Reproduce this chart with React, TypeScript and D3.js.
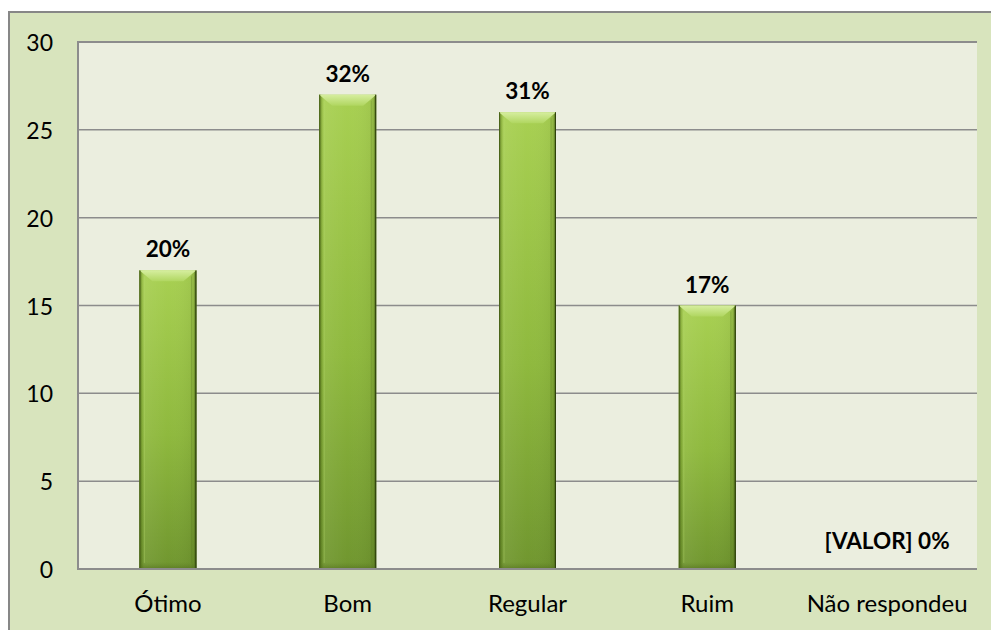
import React from "react";
import * as d3 from "d3";

const categories = ["Ótimo", "Bom", "Regular", "Ruim", "Não respondeu"];
const values = [17, 27, 26, 15, 0];
const valueLabels = ["20%", "32%", "31%", "17%", "[VALOR] 0%"];
const yTicks = [0, 5, 10, 15, 20, 25, 30];

const W = 991;
const H = 630;
const plot = { left: 78, right: 977, top: 42, bottom: 569 };
const FONT = "Lato, 'Open Sans', sans-serif";

export default function App() {
  const x = d3
    .scaleBand<string>()
    .domain(categories)
    .range([plot.left, plot.right])
    .paddingInner(0.683)
    .paddingOuter(0.3415);
  const y = d3.scaleLinear().domain([0, 30]).range([plot.bottom, plot.top]);
  const bw = x.bandwidth();

  return (
    <svg
      width={W}
      height={H}
      style={{ position: "absolute", left: 0, top: 0, display: "block" }}
    >
      <defs>
        <linearGradient id="barV" x1="0" y1="0" x2="0" y2="1">
          <stop offset="0%" stopColor="#a8d052" />
          <stop offset="55%" stopColor="#8fb93e" />
          <stop offset="100%" stopColor="#70962f" />
        </linearGradient>
        <linearGradient id="barH" x1="0" y1="0" x2="1" y2="0">
          <stop offset="0%" stopColor="#3d5510" stopOpacity="0.75" />
          <stop offset="5%" stopColor="#3d5510" stopOpacity="0.15" />
          <stop offset="10%" stopColor="#ffffff" stopOpacity="0.06" />
          <stop offset="50%" stopColor="#ffffff" stopOpacity="0" />
          <stop offset="90%" stopColor="#000000" stopOpacity="0.04" />
          <stop offset="95%" stopColor="#3d5510" stopOpacity="0.2" />
          <stop offset="100%" stopColor="#2e420a" stopOpacity="0.85" />
        </linearGradient>
        <linearGradient id="bevelTop" x1="0" y1="0" x2="0" y2="1">
          <stop offset="0%" stopColor="#d6ee9f" />
          <stop offset="100%" stopColor="#b0d660" />
        </linearGradient>
        <linearGradient id="bevelBottom" x1="0" y1="0" x2="0" y2="1">
          <stop offset="0%" stopColor="#5f7f24" stopOpacity="0" />
          <stop offset="100%" stopColor="#4f6b1c" stopOpacity="0.6" />
        </linearGradient>
      </defs>

      {/* outer chart area */}
      <rect x={9} y={12} width={1000} height={700} fill="#d8e4bd" stroke="#878787" strokeWidth={2} />
      {/* plot area */}
      <rect
        x={plot.left}
        y={plot.top}
        width={plot.right - plot.left}
        height={plot.bottom - plot.top}
        fill="#ebeedf"
      />

      {/* gridlines */}
      {yTicks.map((t) => (
        <line
          key={"g" + t}
          x1={plot.left}
          x2={plot.right}
          y1={y(t)}
          y2={y(t)}
          stroke="#8c8c8c"
          strokeWidth={t === 30 ? 2 : 1.5}
        />
      ))}
      {/* y axis line */}
      <line x1={plot.left} x2={plot.left} y1={plot.top - 1} y2={plot.bottom + 1} stroke="#8c8c8c" strokeWidth={2} />

      {/* tick labels */}
      {yTicks.map((t) => (
        <text
          key={"t" + t}
          x={53}
          y={y(t)}
          textAnchor="end"
          dominantBaseline="central"
          fontFamily={FONT}
          fontSize={23}
          fill="#000"
        >
          {t}
        </text>
      ))}

      {/* bars */}
      {categories.map((c, i) => {
        const v = values[i];
        if (v <= 0) return null;
        const x0 = x(c)!;
        const y0 = y(v);
        const h = y(0) - y0;
        const bev = 11;
        const inset = 13;
        return (
          <g key={"b" + c}>
            <rect x={x0} y={y0} width={bw} height={h} fill="url(#barV)" />
            <rect x={x0} y={y0} width={bw} height={h} fill="url(#barH)" />
            <polygon
              points={`${x0},${y0} ${x0 + bw},${y0} ${x0 + bw - inset},${y0 + bev} ${x0 + inset},${y0 + bev}`}
              fill="url(#bevelTop)"
            />
            <line x1={x0 + 5} x2={x0 + 5} y1={y0 + 6} y2={y0 + h - 6} stroke="#b8dc6e" strokeOpacity={0.35} strokeWidth={1} />
            <line x1={x0 + bw - 5} x2={x0 + bw - 5} y1={y0 + 6} y2={y0 + h - 6} stroke="#5d7f22" strokeOpacity={0.35} strokeWidth={1} />
            <rect x={x0} y={y0 + h - 7} width={bw} height={7} fill="url(#bevelBottom)" />
            <line x1={x0 + bw - 0.5} x2={x0 + bw - 0.5} y1={y0} y2={y0 + h} stroke="#2f420c" strokeWidth={1} />
            <line x1={x0 + 0.5} x2={x0 + 0.5} y1={y0} y2={y0 + h} stroke="#4a6418" strokeWidth={1} />
          </g>
        );
      })}

      {/* x axis line */}
      <line x1={plot.left - 1} x2={plot.right} y1={plot.bottom} y2={plot.bottom} stroke="#8c8c8c" strokeWidth={2} />

      {/* value labels */}
      {categories.map((c, i) => (
        <text
          key={"v" + c}
          x={x(c)! + bw / 2}
          y={y(values[i]) - (values[i] > 0 ? 13 : 20)}
          textAnchor="middle"
          fontFamily={FONT}
          fontWeight="bold"
          fontSize={22.5}
          fill="#000"
        >
          {valueLabels[i]}
        </text>
      ))}

      {/* category labels */}
      {categories.map((c) => (
        <text
          key={"c" + c}
          x={x(c)! + bw / 2}
          y={612}
          textAnchor="middle"
          fontFamily={FONT}
          fontSize={24}
          fill="#000"
        >
          {c}
        </text>
      ))}
    </svg>
  );
}
